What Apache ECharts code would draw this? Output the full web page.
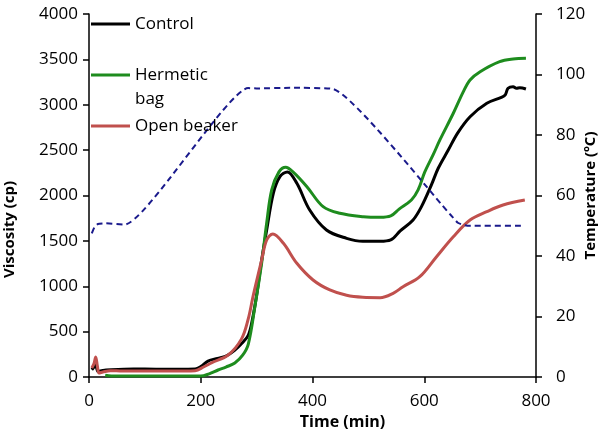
<!DOCTYPE html>
<html>
<head>
<meta charset="utf-8">
<script src="https://cdn.jsdelivr.net/npm/echarts@6/dist/echarts.min.js"></script>
<style>html,body{margin:0;padding:0;background:#fff}#c{width:601px;height:432px}</style>
</head>
<body>
<div id="c"></div>
<script>
// ---- data ----
const xTicks = [0, 200, 400, 600, 800];
const viscTicks = [0, 500, 1000, 1500, 2000, 2500, 3000, 3500, 4000];
const tempTicks = [0, 20, 40, 60, 80, 100, 120];

const controlT = [5, 9, 12, 16, 22, 40, 80, 120, 160, 190, 200, 213, 230, 245, 260, 274, 285, 292, 300, 309, 318, 330, 342, 355, 372, 395, 425, 461, 490, 521, 540, 557, 580, 595, 613, 625, 643, 660, 682, 712, 738, 745, 750, 759, 765, 771, 782];
const controlV = [80, 110, 130, 60, 70, 80, 88, 86, 85, 88, 115, 176, 205, 230, 290, 374, 460, 620, 900, 1289, 1620, 2027, 2210, 2260, 2134, 1840, 1620, 1528, 1495, 1495, 1510, 1610, 1730, 1877, 2120, 2300, 2501, 2690, 2868, 3016, 3081, 3110, 3181, 3199, 3181, 3188, 3174];

const hermeticT = [29, 40, 80, 120, 160, 200, 215, 231, 245, 261, 275, 285, 297, 309, 318, 327, 340, 352, 365, 390, 419, 449, 491, 521, 540, 555, 577, 589, 601, 616, 628, 652, 670, 682, 700, 735, 759, 782];
const hermeticV = [20, 12, 10, 10, 10, 10, 35, 77, 110, 154, 240, 360, 780, 1256, 1697, 2061, 2260, 2311, 2260, 2097, 1877, 1804, 1767, 1760, 1775, 1850, 1950, 2061, 2260, 2450, 2612, 2906, 3144, 3273, 3364, 3475, 3504, 3512];

const openT = [5, 9, 12, 15, 18, 25, 38, 60, 112, 150, 190, 205, 220, 249, 273, 285, 294, 309, 318, 329, 348, 372, 401, 431, 461, 490, 521, 545, 562, 592, 622, 652, 682, 712, 741, 780];
const openV = [100, 150, 220, 120, 44, 55, 70, 66, 66, 65, 70, 110, 158, 242, 420, 640, 900, 1289, 1510, 1576, 1473, 1253, 1069, 959, 900, 878, 874, 925, 995, 1105, 1326, 1546, 1730, 1822, 1895, 1950];

const tempT = [5, 10, 16, 30, 64, 285, 300, 360, 437, 650, 660, 670, 680, 780];
const tempV = [47.5, 49.6, 50.6, 50.8, 50.4, 95.5, 95.4, 95.6, 95.2, 53, 51, 50.3, 50, 50];

const zip = (a, b) => a.map((t, i) => [t, b[i]]);

const FONT = 'Open Sans';
const chart = echarts.init(document.getElementById('c'), null, {renderer: 'canvas'});

const axisLine = {show: true, lineStyle: {color: '#000', width: 1.5}};
const axisTick = {show: true, inside: false, length: 6, lineStyle: {color: '#000', width: 1.5}};
const labelStyle = {color: '#000', fontFamily: FONT, fontSize: 17, formatter: v => String(v)};
const nameStyle = {color: '#000', fontFamily: FONT, fontSize: 15, fontWeight: 'bold'};

const legendBase = {
  orient: 'vertical', left: 91, padding: 0, icon: 'rect', itemWidth: 39, itemHeight: 3,
  textStyle: {color: '#000', fontFamily: FONT, fontSize: 17, lineHeight: 18}
};

chart.setOption({
  animation: false,
  backgroundColor: '#fff',
  grid: {left: 89, right: 65, top: 14, bottom: 55, containLabel: false, outerBoundsMode: 'none'},
  legend: [
    Object.assign({}, legendBase, {top: 15, data: ['Control']}),
    Object.assign({}, legendBase, {top: 66, data: ['Hermetic bag'], formatter: () => 'Hermetic'}),
    Object.assign({}, legendBase, {top: 117, data: ['Open beaker']})
  ],
  graphic: [{
    type: 'text', left: 135, top: 91,
    style: {text: 'bag', fill: '#000', font: '17px "Open Sans"'}
  }],
  xAxis: {
    type: 'value', min: xTicks[0], max: xTicks[xTicks.length - 1], interval: xTicks[1] - xTicks[0],
    axisLine, axisTick, splitLine: {show: false},
    axisLabel: Object.assign({margin: 16}, labelStyle),
    name: 'Time (min)', nameLocation: 'middle', nameGap: 37, nameMoveOverlap: false,
    nameTextStyle: Object.assign({padding: [0, 0, 0, 60]}, nameStyle, {fontSize: 16})
  },
  yAxis: [{
    type: 'value', min: viscTicks[0], max: viscTicks[viscTicks.length - 1], interval: viscTicks[1] - viscTicks[0],
    axisLine, axisTick, splitLine: {show: false},
    axisLabel: Object.assign({margin: 11}, labelStyle),
    name: 'Viscosity (cp)', nameLocation: 'middle', nameGap: 72, nameRotate: 90, nameMoveOverlap: false,
    nameTextStyle: Object.assign({padding: [0, 68, 0, 0]}, nameStyle)
  }, {
    type: 'value', position: 'right',
    min: tempTicks[0], max: tempTicks[tempTicks.length - 1], interval: tempTicks[1] - tempTicks[0],
    axisLine, axisTick, splitLine: {show: false},
    axisLabel: Object.assign({margin: 20}, labelStyle),
    name: 'Temperature (ºC)', nameLocation: 'middle', nameGap: 47, nameRotate: 90, nameMoveOverlap: false,
    nameTextStyle: nameStyle
  }],
  series: [{
    name: 'Control', type: 'line', yAxisIndex: 0, data: zip(controlT, controlV),
    showSymbol: false, smooth: 0.35, color: '#000',
    lineStyle: {color: '#000', width: 3}
  }, {
    name: 'Hermetic bag', type: 'line', yAxisIndex: 0, data: zip(hermeticT, hermeticV),
    showSymbol: false, smooth: 0.35, color: '#1E8C1E',
    lineStyle: {color: '#1E8C1E', width: 3}
  }, {
    name: 'Open beaker', type: 'line', yAxisIndex: 0, data: zip(openT, openV),
    showSymbol: false, smooth: 0.35, color: '#C0504D',
    lineStyle: {color: '#C0504D', width: 3}
  }, {
    name: 'Temperature', type: 'line', yAxisIndex: 1, data: zip(tempT, tempV),
    showSymbol: false, smooth: 0.15, color: '#1A1A8C',
    lineStyle: {color: '#1A1A8C', width: 2, type: [6, 4]}
  }]
});
</script>
</body>
</html>
